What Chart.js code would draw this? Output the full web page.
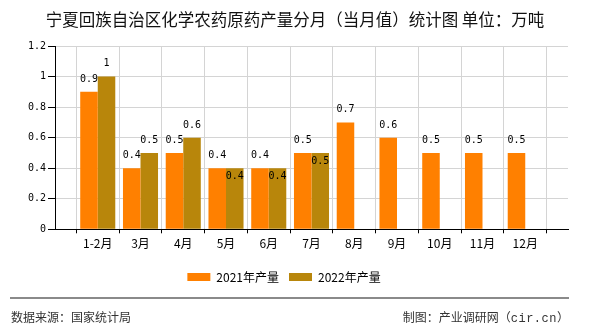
<!DOCTYPE html>
<html><head><meta charset="utf-8">
<script src="https://cdn.jsdelivr.net/npm/chart.js@4"></script>
<style>
html,body{margin:0;padding:0;background:#fff;}
#wrap{position:relative;width:590px;height:330px;overflow:hidden;background:#fff;}
#c{position:absolute;left:0;top:0;}
#title{position:absolute;left:0;top:8px;width:590px;text-align:center;font-family:"Noto Sans CJK SC";font-size:16.5px;color:#111;line-height:22px;white-space:nowrap;}
#rule{position:absolute;left:10px;top:297px;width:559px;height:0;border-top:2px solid #8a8a8a;}
.foot{position:absolute;top:308px;font-family:"Noto Sans CJK SC";font-size:12px;color:#333;line-height:17px;white-space:nowrap;}
#src{left:11px;}
#by{right:21px;}
.mono{font-family:"Liberation Mono";letter-spacing:0.5px;}
</style>
</head><body>
<div id="wrap">
<canvas id="c" width="590" height="330"></canvas>
<div id="title">宁夏回族自治区化学农药原药产量分月（当月值）统计图 单位：万吨</div>
<div id="rule"></div>
<div class="foot" id="src">数据来源：国家统计局</div>
<div class="foot" id="by">制图：产业调研网（<span class="mono">cir.cn</span>）</div>
</div>
<script>
const categories = ['1-2月','3月','4月','5月','6月','7月','8月','9月','10月','11月','12月'];
const values2021 = [0.9,0.4,0.5,0.4,0.4,0.5,0.7,0.6,0.5,0.5,0.5];
const values2022 = [1,0.5,0.6,0.4,0.4,0.5,null,null,null,null,null];
const seriesNames = ['2021年产量','2022年产量'];
const seriesColors = ['#FF8000','#B8860B'];
const yTickLabels = ['0','0.2','0.4','0.6','0.8','1','1.2'];

const pad = a => [null, ...a, null];
const labels = ['', ...categories, ''];

const valueLabels = {
  id:'valueLabels',
  afterDatasetsDraw(chart){
    const ctx = chart.ctx;
    const ds = chart.data.datasets;
    ctx.save();
    ctx.font = '10px "DejaVu Sans Mono"';
    ctx.fillStyle = '#000';
    ctx.textAlign = 'center';
    ctx.textBaseline = 'middle';
    ds.forEach((d, di) => {
      const meta = chart.getDatasetMeta(di);
      meta.data.forEach((bar, i) => {
        const v = d.data[i];
        if (v == null) return;
        const other = ds[1 - di].data[i];
        const inside = di === 1 && other === v;
        const y = inside ? bar.y + 8.5 : bar.y - 12.7;
        ctx.fillText(String(v), bar.x, y);
      });
    });
    ctx.restore();
  }
};

new Chart(document.getElementById('c'), {
  type:'bar',
  data:{
    labels,
    datasets:[
      {label:seriesNames[0], data:pad(values2021), backgroundColor:seriesColors[0], borderWidth:0},
      {label:seriesNames[1], data:pad(values2022), backgroundColor:seriesColors[1], borderWidth:0}
    ]
  },
  options:{
    responsive:false,
    animation:false,
    events:[],
    layout:{padding:{top:46, right:22, left:0, bottom:37}},
    datasets:{bar:{categoryPercentage:0.82, barPercentage:1}},
    plugins:{
      title:{display:false},
      tooltip:{enabled:false},
      legend:{
        position:'bottom',
        labels:{boxWidth:23, boxHeight:8, padding:10, color:'#000', font:{family:'Noto Sans CJK SC', size:12}}
      }
    },
    scales:{
      x:{
        type:'category',
        offset:false,
        grid:{color:'#d4d4d4', tickColor:'#000', tickLength:4},
        border:{color:'#000'},
        ticks:{autoSkip:false, maxRotation:0, minRotation:0, padding:3, color:'#000', font:{family:'Noto Sans CJK SC', size:12}},
        afterFit(s){ s.height = 31.7; }
      },
      y:{
        min:0, max:1.2,
        grid:{color:'#d4d4d4', tickColor:'#000', tickLength:7},
        border:{color:'#000'},
        ticks:{stepSize:0.2, padding:2, color:'#000', font:{family:'DejaVu Sans Mono', size:10},
          callback:(v, i) => yTickLabels[i] ?? String(v)},
        afterFit(s){ s.width = 55; }
      }
    }
  },
  plugins:[valueLabels]
});
</script>
</body></html>
